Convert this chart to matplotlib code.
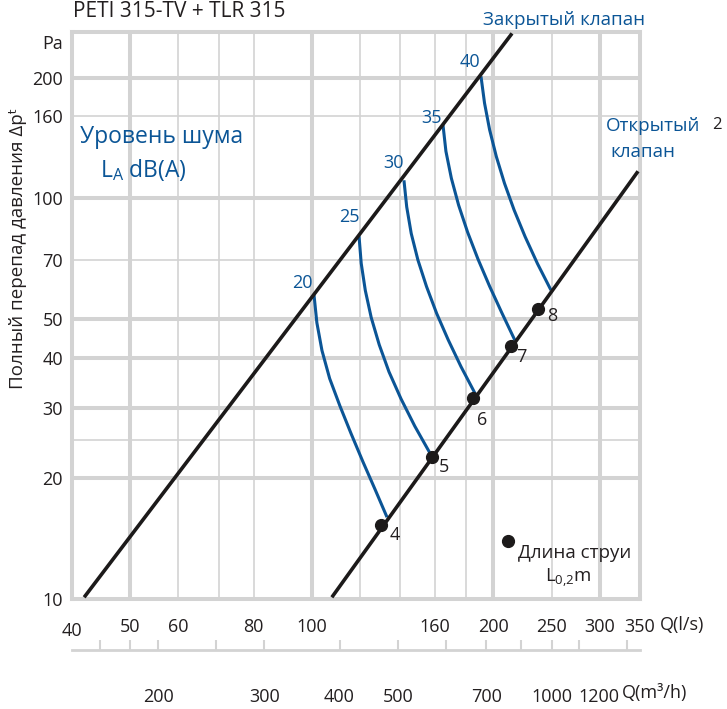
import matplotlib.pyplot as plt
from matplotlib.transforms import ScaledTranslation

plt.rcParams['font.family'] = ['Open Sans', 'DejaVu Sans']
plt.rcParams['mathtext.fontset'] = 'custom'
plt.rcParams['mathtext.rm'] = 'Open Sans'
plt.rcParams['mathtext.it'] = 'Open Sans:italic'
plt.rcParams['mathtext.bf'] = 'Open Sans:bold'

# --- data (Q in l/s, dp in Pa) ---
closed_q = [41.9, 214.7]
closed_p = [10.1, 257.9]
open_q = [107.9, 347.4]
open_p = [10.1, 116.8]

noise_levels = ['20', '25', '30', '35', '40']
noise_q = [
    [100.8, 101.9, 103.9, 107.0, 111.3, 116.2, 121.5, 127.2, 133.2],
    [119.7, 120.7, 122.6, 125.4, 129.3, 134.2, 140.5, 148.1, 157.0],
    [142.1, 143.6, 146.1, 149.9, 154.9, 161.0, 168.3, 176.7, 186.4],
    [164.9, 166.8, 170.3, 175.1, 181.2, 188.6, 197.1, 206.6, 217.1],
    [190.7, 193.3, 197.1, 202.2, 208.6, 216.4, 225.7, 236.6, 249.1],
]
noise_p = [
    [57.3, 48.9, 41.7, 35.5, 30.3, 25.8, 22.0, 18.8, 16.0],
    [80.4, 68.8, 58.9, 50.4, 43.1, 36.9, 31.6, 27.0, 23.1],
    [110.9, 95.2, 81.7, 70.1, 60.2, 51.6, 44.3, 38.0, 32.6],
    [152.9, 131.0, 112.2, 96.1, 82.3, 70.4, 60.3, 51.7, 44.2],
    [201.5, 172.8, 148.2, 127.1, 109.0, 93.5, 80.2, 68.7, 59.0],
]

throw_len = ['4', '5', '6', '7', '8']
throw_q = [130.1, 158.2, 184.9, 213.8, 237.2]
throw_p = [15.3, 22.6, 31.7, 42.7, 52.9]

x_ticks = [40, 50, 60, 80, 100, 160, 200, 250, 300, 350]
y_ticks = [10, 20, 30, 40, 50, 70, 100, 160, 200, 245]
y_labels = ['10', '20', '30', '40', '50', '70', '100', '160', '200', 'Pa']
x_grid_major = [50, 100, 200, 300]
x_grid_minor = [60, 70, 80, 120, 140, 160, 180, 250]
y_grid_major = [20, 30, 40, 50, 100, 200]
y_grid_minor = [25, 70, 160]
m3h_ticks = [160, 180, 200, 250, 300, 400, 500, 600, 700, 800, 900, 1000, 1200]
m3h_labeled = [200, 300, 400, 500, 700, 1000, 1200]

BLUE = '#0b5596'
BLACK = '#1c1a1a'
GRID = '#d3d3d3'
TXT = '#231f20'

W, H = 727, 709
fig = plt.figure(figsize=(W / 100, H / 100), dpi=100)
ax = fig.add_axes([72 / W, 1 - 599 / H, 568 / W, 567 / H])
ax.set_xscale('log')
ax.set_yscale('log')
ax.set_xlim(40, 350)
ax.set_ylim(10, 260)

# grid
for v in x_grid_major:
    ax.axvline(v, color=GRID, lw=2.9, zorder=0)
for v in x_grid_minor:
    ax.axvline(v, color=GRID, lw=1.2, zorder=0)
for v in y_grid_major:
    ax.axhline(v, color=GRID, lw=2.9, zorder=0)
for v in y_grid_minor:
    ax.axhline(v, color=GRID, lw=1.2, zorder=0)
for s in ax.spines.values():
    s.set_color(GRID)
    s.set_linewidth(2.9)

ax.set_xticks(x_ticks)
ax.set_xticklabels([str(v) for v in x_ticks])
ax.set_yticks(y_ticks)
ax.set_yticklabels(y_labels)
ax.minorticks_off()
ax.tick_params(axis='x', length=0, pad=13.5, labelsize=13, labelcolor=TXT)
ax.tick_params(axis='y', length=0, pad=6.5, labelsize=13, labelcolor=TXT)
lab40 = ax.get_xticklabels()[0]
lab40.set_transform(lab40.get_transform() + ScaledTranslation(0, -4 / 100, fig.dpi_scale_trans))

# valve lines
ax.plot(closed_q, closed_p, color=BLACK, lw=2.6, solid_capstyle='butt', zorder=3, clip_on=False)
ax.plot(open_q, open_p, color=BLACK, lw=2.6, solid_capstyle='butt', zorder=3, clip_on=False)

# noise curves
lbl_off = [(-1, 7), (1, 14), (0, 12), (-1, 1), (-1, 9)]
for lev, qs, ps, off in zip(noise_levels, noise_q, noise_p, lbl_off):
    ax.plot(qs, ps, color=BLUE, lw=2.2, solid_capstyle='butt', solid_joinstyle='round', zorder=2)
    ax.annotate(lev, (qs[0], ps[0]), xytext=off, textcoords='offset pixels',
                ha='right', va='baseline', color=BLUE, fontsize=13)

# throw length points
ax.plot(throw_q, throw_p, 'o', color=BLACK, ms=8.5, zorder=4)
pt_off = [(14, -10), (12, -10), (9, -22), (10, -11), (14, -7)]
for lab, q, p, off in zip(throw_len, throw_q, throw_p, pt_off):
    ax.annotate(lab, (q, p), xytext=off, textcoords='offset pixels',
                ha='center', va='center', color=TXT, fontsize=13)

# legend marker
ax.plot([211.4], [13.95], 'o', color=BLACK, ms=8.5, zorder=4)


def ft(px, py, s, **kw):
    fig.text(px / W, 1 - py / H, s, **kw)


ft(73, 17, 'PETI 315-TV + TLR 315', fontsize=15, color=TXT, va='baseline')
ft(483, 25, 'Закрытый клапан', fontsize=13.5, color=BLUE, va='baseline')
ft(606, 131, 'Открытый', fontsize=13.5, color=BLUE, va='baseline')
ft(610, 157, 'клапан', fontsize=13.5, color=BLUE, va='baseline')
ft(80, 143, 'Уровень шума', fontsize=16.5, color=BLUE, va='baseline')
ft(100, 177, r'L$_\mathregular{A}$ dB(A)', fontsize=16.5, color=BLUE, va='baseline')
ft(518, 558, 'Длина струи', fontsize=13.5, color=TXT, va='baseline')
ft(545, 582, r'L$_\mathregular{0{,}2}$m', fontsize=13.5, color=TXT, va='baseline')
ft(18, 248, 'Полный перепад давления Δpᵗ', fontsize=13.5, color=TXT,
   rotation=90, ha='center', va='center')
ft(660, 625, 'Q(l/s)', fontsize=13, color=TXT, va='center')
ft(622, 693, 'Q(m³/h)', fontsize=13, color=TXT, va='center')
ft(712, 125, '2', fontsize=12, color=TXT, va='center')

# second flow scale in m3/h
ax2 = fig.add_axes([72 / W, 1 - 650 / H, 568 / W, 0.0001])
ax2.set_xscale('log')
ax2.set_xlim(40 * 3.6, 350 * 3.6)
ax2.set_yticks([])
for k in ['left', 'right', 'top']:
    ax2.spines[k].set_visible(False)
ax2.spines['bottom'].set_color(GRID)
ax2.spines['bottom'].set_linewidth(2)
ax2.set_xticks(m3h_ticks)
ax2.set_xticklabels([str(v) if v in m3h_labeled else '' for v in m3h_ticks])
ax2.minorticks_off()
ax2.tick_params(axis='x', direction='in', length=7, width=1.5, color=GRID,
                pad=27, labelsize=13, labelcolor=TXT)
for t, v in zip(ax2.get_xticklabels(), m3h_ticks):
    if v >= 1000:
        t.set_transform(t.get_transform() + ScaledTranslation(-28 / 100, 0, fig.dpi_scale_trans))

fig.savefig('out.png', dpi=100)
